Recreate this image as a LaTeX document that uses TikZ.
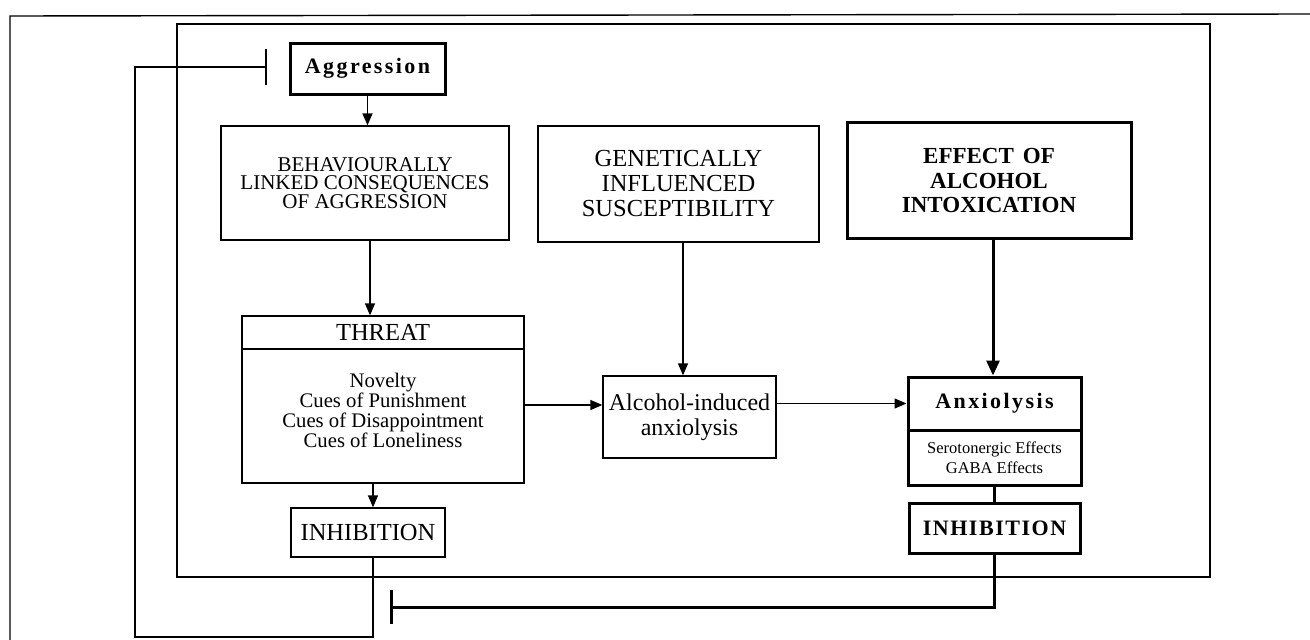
\documentclass[tikz,border=0pt]{standalone}
\usepackage{fontspec}
\setmainfont{Liberation Serif}
\usetikzlibrary{arrows.meta,calc}
\begin{document}
\begin{tikzpicture}[x=1pt,y=-1pt,
  boxthin/.style={draw,line width=1.3pt,inner sep=0pt,align=center},
  boxthick/.style={draw,line width=3pt,inner sep=0pt,align=center},
  conn/.style={line width=1.3pt},
  arr/.style={conn,-{Triangle[length=12pt,width=10pt]}},
  bigarr/.style={line width=3pt,-{Triangle[length=15pt,width=13pt]}},
  frameline/.style={line width=1.4pt}]
\useasboundingbox (0,0) rectangle (1310,640);
% frames
\draw[frameline] (10,640) -- (10,16) -- (1310,14);
\draw[frameline] (177,24) rectangle (1210,577);
% nodes
\node[boxthick,minimum width=155pt,minimum height=51pt,
  font={\fontsize{22}{24}\selectfont\bfseries\addfontfeature{LetterSpace=11}}] (aggr) at (367.5,68.5)
  {Aggression};
\node[boxthin,minimum width=288pt,minimum height=114pt,
  font={\fontsize{21}{18.5}\selectfont}] (behav) at (365,183)
  {BEHAVIOURALLY\\LINKED CONSEQUENCES\\OF AGGRESSION};
\node[boxthin,minimum width=281pt,minimum height=116pt,
  font={\fontsize{24.5}{25}\selectfont}] (genet) at (678.5,184)
  {GENETICALLY\\INFLUENCED\\SUSCEPTIBILITY};
\node[boxthick,minimum width=284pt,minimum height=116pt,
  font={\fontsize{23}{24.5}\selectfont\bfseries}] (effect) at (989,180.5)
  {EFFECT\hspace{9pt}OF\\ALCOHOL\\INTOXICATION};
\node[boxthin,minimum width=282pt,minimum height=33pt,
  font={\fontsize{24.5}{25}\selectfont}] (threathead) at (383,332.5)
  {THREAT};
\node[boxthin,minimum width=282pt,minimum height=134pt] (threatbody) at (383,416) {};
\node[inner sep=0pt,align=center,font={\fontsize{20.7}{20}\selectfont}] (threattext)
  at ([yshift=6pt]threatbody.center)
  {Novelty\\Cues of Punishment\\Cues of Disappointment\\Cues of Loneliness};
\node[boxthin,minimum width=173pt,minimum height=82pt,
  font={\fontsize{24}{25}\selectfont}] (alc) at (689.5,417)
  {Alcohol-induced\\anxiolysis};
\node[boxthick,minimum width=173pt,minimum height=53pt,
  font={\fontsize{22}{24}\selectfont\bfseries\addfontfeature{LetterSpace=11}}] (anxhead) at (994.5,403.5)
  {Anxiolysis};
\node[boxthick,minimum width=173pt,minimum height=55pt,
  font={\fontsize{16.5}{20}\selectfont}] (anxbody) at (994.5,457.5)
  {Serotonergic Effects\\GABA Effects};
\node[boxthin,minimum width=154pt,minimum height=49pt,
  font={\fontsize{24.5}{25}\selectfont}] (inhL) at (368,532.5)
  {INHIBITION};
\node[boxthick,minimum width=171pt,minimum height=50pt,
  font={\fontsize{22}{24}\selectfont\bfseries\addfontfeature{LetterSpace=7}}] (inhR) at (994.5,528)
  {INHIBITION};
% coordinates
\coordinate (fbLcorner) at (135,637);
\coordinate (fbL) at (267,67);
\coordinate (fbR) at (390,607);
\coordinate (alcin) at ([yshift=12pt]alc.west);
% connectors
\draw[arr] (aggr.south) -- (aggr.south |- behav.north);
\draw[arr] ([xshift=5pt]behav.south) -- ([xshift=-13pt]threathead.north);
\draw[arr] ([xshift=-10pt]threatbody.south) -- ([xshift=5pt]inhL.north);
\draw[arr] ([xshift=4.5pt]genet.south) -- ([xshift=-6.5pt]alc.north);
\draw[arr] (threatbody.east |- alcin) -- (alcin);
\draw[arr] (alc.east |- anxhead.west) -- (anxhead.west);
\draw[bigarr] ([xshift=4pt]effect.south) -- ([xshift=-1.5pt]anxhead.north);
\draw[line width=3pt] (anxbody.south) -- (inhR.north);
\draw[line width=3pt,-{Bar[width=34pt,line width=3pt]}] (inhR.south) |- (fbR);
\draw[conn,-{Bar[width=36pt,line width=2pt]}] ([xshift=5pt]inhL.south) |- (fbLcorner) |- (fbL);
\end{tikzpicture}
\end{document}
